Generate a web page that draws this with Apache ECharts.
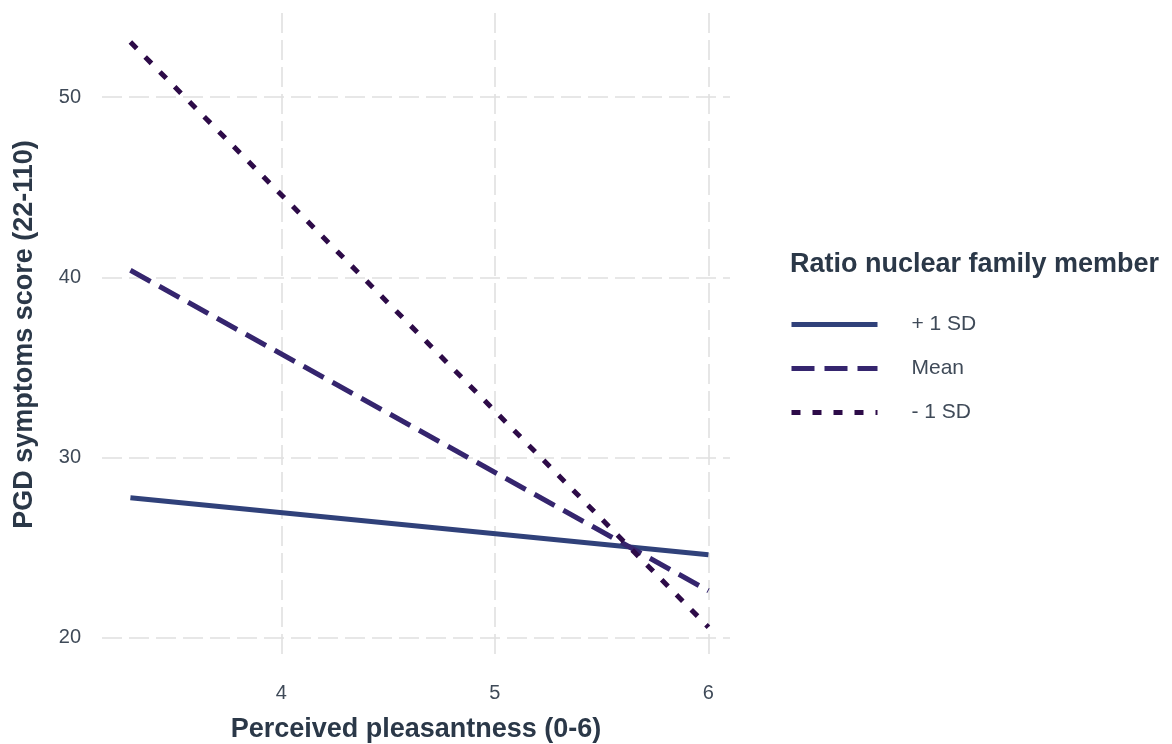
<!DOCTYPE html>
<html>
<head>
<meta charset="utf-8">
<script src="https://cdn.jsdelivr.net/npm/echarts@6/dist/echarts.min.js"></script>
<style>
html,body{margin:0;padding:0;background:#fff;}
#main{width:1172px;height:744px;}
</style>
</head>
<body>
<div id="main"></div>
<script>
const xValues = [3.293, 6];
const plusSD = [27.78, 24.62];
const meanSD = [40.39, 22.62];
const minusSD = [53.05, 20.6];
const seriesNames = ['+ 1 SD', 'Mean', '- 1 SD'];
const xTicks = [4, 5, 6];
const yTicks = [20, 30, 40, 50];

const font = "'Liberation Sans', Arial, Helvetica, sans-serif";
const textColor = '#2b3848';
const tickColor = '#3f4a58';
const gridColor = '#e0e0e0';

function pts(ys){ return xValues.map((x,i)=>[x, ys[i]]); }

const chart = echarts.init(document.getElementById('main'));
chart.setOption({
  backgroundColor: '#fff',
  animation: false,
  grid: {left: 102, right: 442, top: 13, bottom: 88, containLabel: false, outerBoundsMode: 'none'},
  title: {
    text: 'Ratio nuclear family member',
    left: 790, top: 251, padding: 0,
    textStyle: {fontFamily: font, fontSize: 27, fontWeight: 'bold', color: textColor}
  },
  legend: {
    orient: 'vertical',
    left: 789, top: 314, padding: 0,
    itemWidth: 86, itemHeight: 14, itemGap: 23,
    data: seriesNames,
    itemStyle: {color: 'rgba(0,0,0,0)', borderWidth: 0, opacity: 0},
    lineStyle: {width: 5},
    textStyle: {fontFamily: font, fontSize: 21, color: tickColor, padding: [0,0,0,29]}
  },
  xAxis: {
    type: 'value',
    min: 3.16, max: 6.101,
    name: 'Perceived pleasantness (0-6)',
    nameLocation: 'middle', nameGap: 60,
    nameTextStyle: {fontFamily: font, fontSize: 27, fontWeight: 'bold', color: textColor},
    axisLine: {show: false},
    axisTick: {show: false, customValues: xTicks},
    axisLabel: {customValues: xTicks, margin: 27, fontFamily: font, fontSize: 20, color: tickColor},
    splitLine: {show: true, lineStyle: {color: gridColor, width: 1.6, type: [20, 7]}}
  },
  yAxis: {
    type: 'value',
    min: 19.0, max: 54.66,
    name: 'PGD symptoms score (22-110)',
    nameLocation: 'middle', nameGap: 64,
    nameTextStyle: {fontFamily: font, fontSize: 27, fontWeight: 'bold', color: textColor},
    axisLine: {show: false},
    axisTick: {show: false, customValues: yTicks},
    axisLabel: {customValues: yTicks, margin: 21, fontFamily: font, fontSize: 20, color: tickColor},
    splitLine: {show: true, lineStyle: {color: gridColor, width: 1.6, type: [20, 7]}}
  },
  series: [
    {name: seriesNames[0], type: 'line', data: pts(plusSD), symbol: 'none',
     lineStyle: {color: '#30417a', width: 5, type: 'solid'}, itemStyle: {color: '#30417a'}},
    {name: seriesNames[1], type: 'line', data: pts(meanSD), symbol: 'none',
     lineStyle: {color: '#35256e', width: 5, type: [23, 10]}, itemStyle: {color: '#35256e'}},
    {name: seriesNames[2], type: 'line', data: pts(minusSD), symbol: 'none',
     lineStyle: {color: '#2d0b48', width: 5, type: [9, 12]}, itemStyle: {color: '#2d0b48'}}
  ]
});
</script>
</body>
</html>
